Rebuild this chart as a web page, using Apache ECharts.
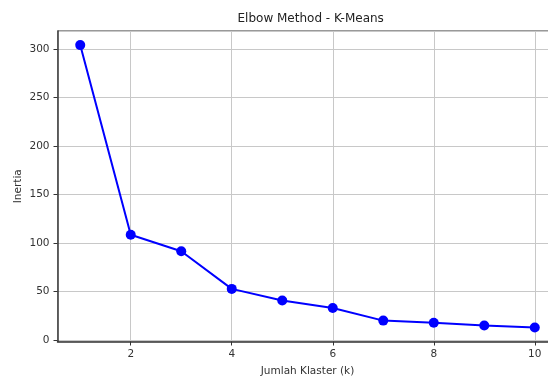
<!DOCTYPE html>
<html>
<head>
<meta charset="utf-8">
<script src="https://cdn.jsdelivr.net/npm/echarts@6/dist/echarts.min.js"></script>
<style>
  html, body { margin: 0; padding: 0; background: #fff; }
  #chart { width: 548px; height: 376px; }
</style>
</head>
<body>
<div id="chart"></div>
<script>
// number of clusters and their inertia
const kValues = [1, 2, 3, 4, 5, 6, 7, 8, 9, 10];
const inertia = [304, 108.5, 91.5, 52.7, 40.8, 33, 20, 17.7, 15, 12.9];

const titleText = "Elbow Method - K-Means";
const xName = "Jumlah Klaster (k)";
const yName = "Inertia";

const font = "DejaVu Sans";
const chart = echarts.init(document.getElementById("chart"));

const option = {
  animation: false,
  backgroundColor: "#fff",
  textStyle: { fontFamily: font },
  grid: {
    left: 57.5,
    top: 31,
    width: 500,
    bottom: 34.5,
    outerBoundsMode: "none",
    containLabel: false,
    show: true,
    borderColor: "#333",
    borderWidth: 1,
  },
  graphic: [
    {
      type: "text",
      left: 307.5 - 70,
      top: 13,
      style: {
        text: titleText,
        font: "12px DejaVu Sans",
        fill: "#222",
        width: 140,
        align: "center",
      },
    },
  ],
  xAxis: {
    type: "value",
    min: 0.55,
    max: 10.45,
    splitNumber: 5,
    name: xName,
    nameLocation: "middle",
    nameGap: 24,
    nameTextStyle: { fontSize: 10.5, color: "#333", fontFamily: font },
    axisLine: { onZero: false, lineStyle: { color: "#333", width: 1.5 } },
    axisTick: { length: 4, lineStyle: { color: "#333" } },
    axisLabel: {
      showMinLabel: false,
      showMaxLabel: false,
      fontSize: 10.5,
      color: "#333",
      margin: 7,
    },
    splitLine: { show: true, lineStyle: { color: "#c8c8c8", width: 1 } },
  },
  yAxis: {
    type: "value",
    min: -1.55,
    max: 318.55,
    splitNumber: 6,
    name: yName,
    nameLocation: "middle",
    nameGap: 34,
    nameMoveOverlap: false,
    nameTextStyle: { fontSize: 10.5, color: "#333", fontFamily: font },
    axisLine: { show: true, onZero: false, lineStyle: { color: "#333", width: 1.5 } },
    axisTick: { show: true, length: 4, lineStyle: { color: "#333" } },
    axisLabel: {
      showMinLabel: false,
      showMaxLabel: false,
      fontSize: 10.5,
      color: "#333",
      margin: 8,
    },
    splitLine: { show: true, lineStyle: { color: "#c8c8c8", width: 1 } },
  },
  series: [
    {
      type: "line",
      data: kValues.map((k, i) => [k, inertia[i]]),
      color: "#0000ff",
      lineStyle: { width: 2, color: "#0000ff" },
      symbol: "circle",
      symbolSize: 10,
      showSymbol: true,
      itemStyle: { color: "#0000ff" },
      clip: false,
    },
  ],
};

chart.setOption(option);
</script>
</body>
</html>
